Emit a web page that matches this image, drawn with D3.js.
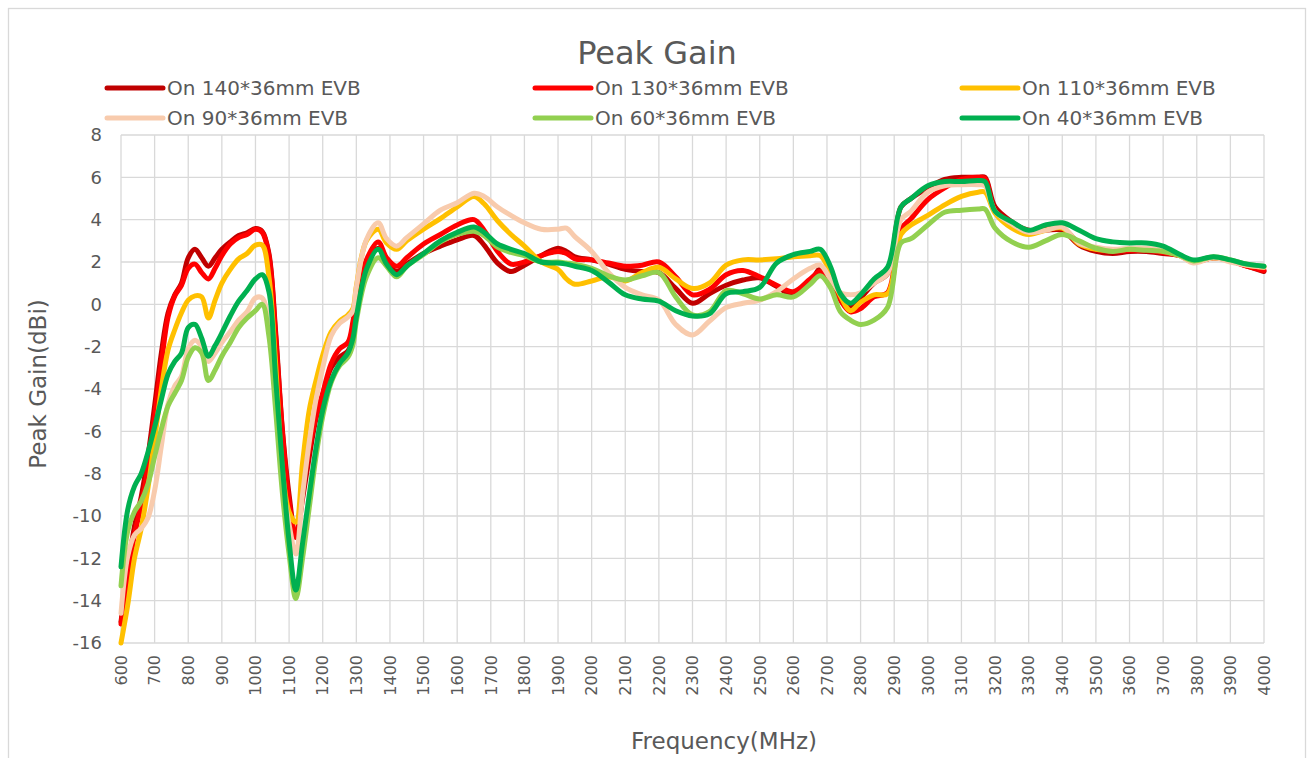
<!DOCTYPE html>
<html>
<head>
<meta charset="utf-8">
<script src="https://cdn.jsdelivr.net/npm/d3@7"></script>
<style>
  html, body { margin: 0; padding: 0; background: #fff; }
  svg text { font-family: "DejaVu Sans", "Noto Sans", sans-serif; fill: #595959; }
</style>
</head>
<body>
<svg id="chart" width="1309" height="758"></svg>
<script>
const freqs = [600,620,640,660,680,700,720,740,760,780,800,820,840,860,880,900,925,950,975,
  1000,1020,1040,1060,1080,1100,1120,1140,1160,1180,1200,1225,1250,1275,1290,1300,1330,1365,1390,1420,1450,
  1500,1550,1600,1650,1680,1720,1760,1800,1850,1900,1925,1950,2000,2050,2100,2150,2200,2250,2300,2350,
  2400,2450,2500,2550,2600,2650,2680,2710,2740,2770,2800,2840,2880,2920,2950,3000,3050,3100,3150,3170,
  3200,3250,3300,3350,3400,3450,3500,3550,3600,3650,3700,3750,3790,3850,3900,3950,4000];

const s140 = [-15.0,-12.6,-10.5,-9.1,-7.2,-4.8,-2.3,-0.4,0.45,1.0,2.2,2.6,2.2,1.8,2.2,2.6,2.95,3.25,3.38,
  3.58,3.45,2.4,-1.3,-5.9,-9.0,-11.0,-9.2,-7.2,-5.4,-4.3,-3.0,-2.5,-2.2,-1.6,-0.2,1.9,2.65,2.0,1.55,1.9,
  2.4,2.75,3.05,3.25,2.8,1.95,1.55,1.85,2.3,2.65,2.5,2.25,2.1,1.9,1.65,1.55,1.5,0.75,0.05,0.5,
  0.9,1.15,1.25,0.85,0.45,1.0,1.7,1.5,0.3,-0.15,0.3,1.0,1.45,4.6,5.0,5.5,5.9,6.0,6.0,6.0,
  4.6,3.9,3.45,3.5,3.5,2.8,2.5,2.4,2.5,2.5,2.4,2.3,2.0,2.2,2.05,1.8,1.55];

const s130 = [-15.1,-12.9,-10.9,-9.5,-7.7,-5.3,-2.8,-0.6,0.4,0.9,1.7,1.9,1.5,1.2,1.7,2.3,2.85,3.15,3.3,
  3.55,3.4,2.3,-1.5,-6.0,-9.3,-11.0,-8.8,-6.8,-5.3,-4.2,-2.8,-2.1,-1.8,-0.8,0.2,2.1,2.95,2.2,1.8,2.2,
  2.85,3.3,3.75,4.0,3.5,2.5,1.9,2.0,2.3,2.5,2.4,2.15,2.1,1.95,1.8,1.85,2.0,1.3,0.45,0.7,
  1.4,1.6,1.3,0.9,0.6,1.2,1.55,1.2,0.2,-0.35,-0.2,0.35,0.55,3.55,4.05,4.95,5.5,5.9,6.0,5.95,
  4.4,3.85,3.5,3.55,3.6,2.9,2.6,2.5,2.55,2.55,2.45,2.3,2.0,2.2,2.05,1.8,1.6];

const s110 = [-16.0,-14.2,-12.0,-10.6,-8.7,-6.4,-4.0,-2.15,-1.2,-0.4,0.2,0.4,0.35,-0.65,0.2,1.0,1.65,2.15,2.4,
  2.8,2.8,1.3,-2.8,-7.8,-9.8,-10.3,-7.5,-5.0,-3.6,-2.4,-1.3,-0.8,-0.5,-0.2,0.85,3.0,3.55,2.9,2.6,3.0,
  3.55,4.05,4.6,5.1,4.75,3.95,3.3,2.75,2.0,1.65,1.2,0.95,1.1,1.3,1.1,1.5,1.75,1.2,0.75,1.0,
  1.85,2.1,2.1,2.15,2.25,2.3,2.3,1.5,0.4,-0.3,0.1,0.45,0.5,3.3,3.75,4.2,4.7,5.1,5.3,5.3,
  4.3,3.6,3.3,3.5,3.6,2.85,2.6,2.55,2.6,2.6,2.5,2.3,2.0,2.2,2.05,1.85,1.75];

const s90 = [-14.6,-11.9,-10.9,-10.6,-10.1,-8.8,-6.7,-4.7,-3.85,-3.4,-2.1,-1.7,-2.0,-2.7,-2.3,-1.8,-1.3,-0.75,-0.35,
  0.3,0.3,-1.2,-4.5,-8.3,-10.4,-11.8,-9.0,-6.5,-4.5,-3.0,-1.5,-0.9,-0.6,-0.3,0.8,3.05,3.85,3.1,2.75,3.15,
  3.8,4.45,4.8,5.25,5.1,4.6,4.2,3.85,3.55,3.55,3.6,3.2,2.5,1.5,0.8,0.45,0.2,-0.95,-1.45,-0.8,
  -0.15,0.05,0.2,0.6,1.2,1.7,1.85,1.2,0.55,0.45,0.55,1.0,1.45,4.0,4.4,5.3,5.6,5.65,5.65,5.6,
  4.4,3.8,3.4,3.5,3.65,2.9,2.7,2.6,2.65,2.65,2.55,2.3,1.95,2.2,2.0,1.85,1.75];

const s60 = [-13.3,-10.7,-9.8,-9.3,-8.5,-7.2,-5.9,-4.8,-4.2,-3.6,-2.5,-2.05,-2.3,-3.6,-3.1,-2.45,-1.8,-1.1,-0.65,
  -0.3,0.0,-1.5,-5.0,-8.9,-11.8,-13.9,-12.0,-9.6,-7.2,-5.3,-3.7,-2.9,-2.5,-1.9,-0.8,1.3,2.2,1.8,1.3,1.8,
  2.35,2.95,3.3,3.45,3.25,2.7,2.45,2.3,2.0,2.0,1.95,1.9,1.7,1.35,1.15,1.35,1.5,0.35,-0.5,-0.35,
  0.65,0.5,0.25,0.45,0.35,0.95,1.35,0.8,-0.35,-0.75,-0.95,-0.75,-0.15,2.9,3.1,3.75,4.35,4.45,4.5,4.5,
  3.6,2.95,2.7,3.0,3.3,3.0,2.65,2.5,2.6,2.55,2.5,2.3,2.05,2.25,2.1,1.9,1.8];

const s40 = [-12.4,-9.7,-8.6,-8.0,-7.0,-5.8,-4.5,-3.3,-2.7,-2.3,-1.1,-0.95,-1.6,-2.45,-1.95,-1.35,-0.55,0.15,0.65,
  1.2,1.4,0.6,-3.5,-7.6,-11.2,-13.5,-11.3,-9.0,-6.8,-5.0,-3.6,-2.8,-2.3,-1.6,-0.6,1.65,2.6,1.9,1.4,1.8,
  2.4,3.0,3.4,3.65,3.4,2.85,2.6,2.4,2.0,1.95,1.9,1.8,1.6,1.05,0.45,0.25,0.15,-0.3,-0.55,-0.45,
  0.5,0.6,0.8,1.95,2.35,2.5,2.6,1.8,0.5,0.05,0.45,1.2,1.75,4.6,5.0,5.6,5.8,5.8,5.85,5.8,
  4.4,3.9,3.5,3.75,3.85,3.5,3.1,2.95,2.9,2.9,2.75,2.35,2.1,2.25,2.1,1.9,1.8];

const seriesNames = ["On 140*36mm EVB","On 130*36mm EVB","On 110*36mm EVB","On 90*36mm EVB","On 60*36mm EVB","On 40*36mm EVB"];
const seriesColors = ["#C00000","#FF0000","#FFC000","#F8CBAD","#92D050","#00B050"];
const seriesValues = [s140, s130, s110, s90, s60, s40];
const xTicks = d3.range(600, 4001, 100);
const yTicks = d3.range(-16, 9, 2);
const titleText = "Peak Gain";
const xTitle = "Frequency(MHz)";
const yTitle = "Peak Gain(dBi)";

const svg = d3.select("#chart");
const grid = "#d9d9d9";

// outer chart border
svg.append("rect").attr("x", 8.5).attr("y", 8.5).attr("width", 1297).attr("height", 770)
  .attr("fill", "#fff").attr("stroke", grid).attr("stroke-width", 1.3);

const x = d3.scaleLinear().domain([600, 4000]).range([121, 1264]);
const y = d3.scaleLinear().domain([-16, 8]).range([643, 135]);

// gridlines
const g = svg.append("g");
g.selectAll("line.v").data(xTicks).join("line")
  .attr("x1", d => x(d)).attr("x2", d => x(d)).attr("y1", y(8)).attr("y2", y(-16))
  .attr("stroke", grid).attr("stroke-width", 1.3);
g.selectAll("line.h").data(yTicks).join("line")
  .attr("x1", x(600)).attr("x2", x(4000)).attr("y1", d => y(d)).attr("y2", d => y(d))
  .attr("stroke", grid).attr("stroke-width", 1.3);

// y labels
svg.append("g").selectAll("text").data(yTicks).join("text")
  .attr("x", 102).attr("y", d => y(d)).attr("dy", "0.36em")
  .attr("text-anchor", "end").style("font-size", "18px").text(d => d);

// x labels
svg.append("g").selectAll("text").data(xTicks).join("text")
  .attr("transform", d => `translate(${x(d)},655) rotate(-90)`)
  .attr("dy", "0.36em").attr("text-anchor", "end").style("font-size", "16px").text(d => d);

// lines
const line = d3.line().x((d, i) => x(freqs[i])).y(d => y(d)).curve(d3.curveCatmullRom.alpha(0.5));
svg.append("g").selectAll("path").data(seriesValues).join("path")
  .attr("d", d => line(d)).attr("fill", "none")
  .attr("stroke", (d, i) => seriesColors[i]).attr("stroke-width", 5)
  .attr("stroke-linejoin", "round").attr("stroke-linecap", "round");

// title
svg.append("text").attr("x", 657).attr("y", 64).attr("text-anchor", "middle")
  .style("font-size", "32px").text(titleText);

// legend
const legCols = [107, 535, 962];
const leg = svg.append("g").selectAll("g").data(seriesNames).join("g")
  .attr("transform", (d, i) => `translate(${legCols[i % 3]},${i < 3 ? 88 : 118})`);
leg.append("line").attr("x1", 0).attr("x2", 56).attr("y1", 0).attr("y2", 0)
  .attr("stroke", (d, i) => seriesColors[i]).attr("stroke-width", 5).attr("stroke-linecap", "round");
leg.append("text").attr("x", 60).attr("y", 0).attr("dy", "0.36em")
  .style("font-size", "20px").text(d => d);

// axis titles
svg.append("text").attr("x", 724).attr("y", 749).attr("text-anchor", "middle")
  .style("font-size", "23px").text(xTitle);
svg.append("text").attr("transform", "translate(46,384) rotate(-90)").attr("text-anchor", "middle")
  .style("font-size", "23px").text(yTitle);
</script>
</body>
</html>
